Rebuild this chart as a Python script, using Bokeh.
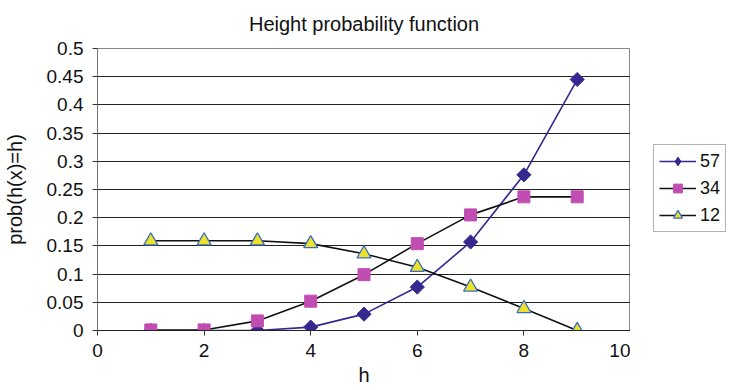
import math
from bokeh.plotting import figure
from bokeh.models import Range1d, FixedTicker, CustomJSTickFormatter, Legend, LegendItem
from bokeh.layouts import row
from bokeh.embed import file_html
from bokeh.resources import INLINE

h = [1, 2, 3, 4, 5, 6, 7, 8, 9]
s57 = [0.0, 0.0, 0.0, 0.006, 0.029, 0.077, 0.157, 0.276, 0.445]
s34 = [0.001, 0.001, 0.017, 0.052, 0.099, 0.154, 0.205, 0.237, 0.237]
s12 = [0.159, 0.159, 0.159, 0.154, 0.136, 0.112, 0.077, 0.039, 0.0]
y_ticks = [0, 0.05, 0.1, 0.15, 0.2, 0.25, 0.3, 0.35, 0.4, 0.45, 0.5]
x_ticks = [0, 2, 4, 6, 8, 10]
labels = ["57", "34", "12"]

FONT = "Liberation Sans"

p = figure(width=630, height=390, output_backend="svg", toolbar_location=None,
           x_range=Range1d(0, 10), y_range=Range1d(0, 0.5),
           title="Height probability function",
           min_border_left=97, min_border_right=0, min_border_top=48, min_border_bottom=60)
p.background_fill_color = "white"
p.border_fill_color = "white"
p.outline_line_color = "#888888"
p.outline_line_width = 1

p.title.text_font = FONT
p.title.text_font_size = "20px"
p.title.text_font_style = "normal"
p.title.align = "center"
p.title.vertical_align = "top"
p.title.text_color = "#111111"
p.title.standoff = 24

p.xgrid.visible = False
p.ygrid.grid_line_color = "#222222"
p.ygrid.grid_line_width = 1
p.yaxis.ticker = FixedTicker(ticks=y_ticks)
p.xaxis.ticker = FixedTicker(ticks=x_ticks)
p.yaxis.formatter = CustomJSTickFormatter(code="return tick.toFixed(2).replace(/0+$/,'').replace(/\\.$/,'');")

for ax in (p.xaxis, p.yaxis):
    ax.major_label_text_font = FONT
    ax.major_label_text_font_size = "19px"
    ax.major_label_text_color = "#111111"
    ax.axis_label_text_font = FONT
    ax.axis_label_text_font_size = "20px"
    ax.axis_label_text_font_style = "normal"
    ax.axis_label_text_color = "#111111"
    ax.minor_tick_line_color = None
    ax.major_tick_in = 0
    ax.major_tick_out = 5
    ax.major_tick_line_color = "#333333"

p.yaxis.axis_line_color = "#777777"
p.xaxis.axis_line_color = "#222222"
p.xaxis.axis_label = "h"
p.yaxis.axis_label = "prob(h(x)=h)"
p.xaxis.major_label_standoff = 8
p.yaxis.major_label_standoff = 9
p.xaxis.axis_label_standoff = 4
p.yaxis.axis_label_standoff = 18

c57 = "#35288f"
c34 = "#c14db2"
c12f = "#ece22a"
c12l = "#3a6cc4"

def draw(fig, in_legend=False):
    l57 = fig.line(h, s57, line_color=c57, line_width=1.6)
    if in_legend:
        m57 = fig.scatter(h, s57, marker="diamond", size=14, fill_color=c57, line_color=c57)
    else:
        m57 = fig.scatter(h, s57, marker="square", angle=math.pi / 4, size=10, fill_color=c57, line_color=c57)
    l34 = fig.line(h, s34, line_color="#111111", line_width=1.6)
    m34 = fig.scatter(h, s34, marker="square", size=12, fill_color=c34, line_color=c34)
    l12 = fig.line(h, s12, line_color="#111111", line_width=1.6)
    m12 = fig.scatter(h, s12, marker="triangle", size=14, fill_color=c12f, line_color=c12l, line_width=1.3)
    return [[l57, m57], [l34, m34], [l12, m12]]

draw(p)

# side figure that only carries the legend (its own view range shows none of the data)
p2 = figure(width=108, height=390, output_backend="svg", toolbar_location=None,
            x_range=Range1d(100, 101), y_range=Range1d(100, 101),
            min_border_left=0, min_border_right=0, min_border_top=48, min_border_bottom=60)
p2.axis.visible = False
p2.grid.visible = False
p2.outline_line_color = None
p2.background_fill_color = "white"
p2.border_fill_color = "white"
rs = draw(p2, in_legend=True)

legend = Legend(items=[LegendItem(label=lab, renderers=r) for lab, r in zip(labels, rs)],
                location=(23, 98))
legend.label_text_font = FONT
legend.label_text_font_size = "18px"
legend.label_text_color = "#111111"
legend.border_line_color = "#666666"
legend.border_line_width = 1
legend.glyph_width = 37
legend.glyph_height = 22
legend.spacing = 5
legend.padding = 5
legend.margin = 0
legend.label_standoff = 4
legend.background_fill_alpha = 1
p2.add_layout(legend)

layout = row(p, p2, spacing=0)
open("out.html", "w").write(file_html(layout, INLINE))
